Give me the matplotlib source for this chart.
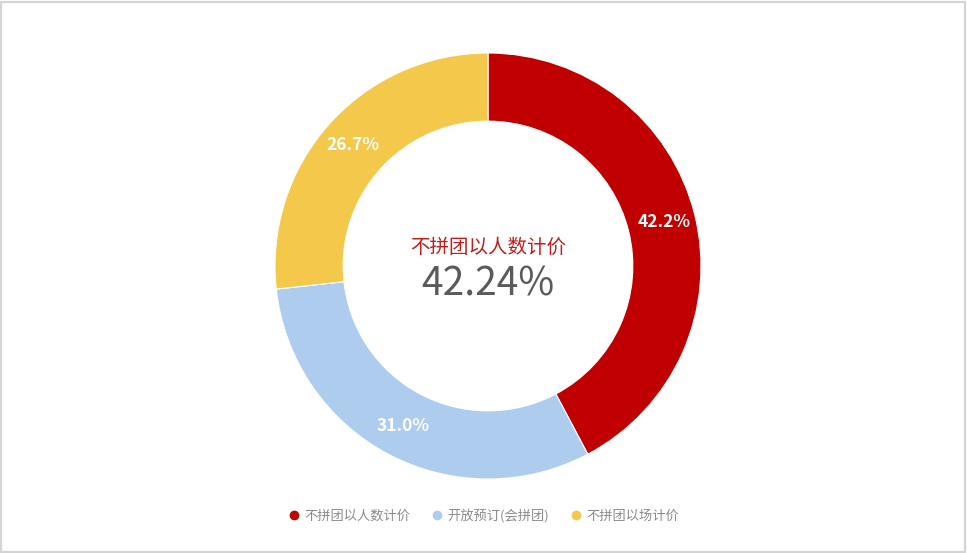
import matplotlib.pyplot as plt
from matplotlib.lines import Line2D
from matplotlib.patches import Rectangle

plt.rcParams['font.family'] = ['Noto Sans CJK SC', 'DejaVu Sans']

# data
categories = ["不拼团以人数计价", "开放预订(会拼团)", "不拼团以场计价"]
shares = [42.24, 31.03, 26.73]
colors = ["#C00000", "#AECDEE", "#F4C84A"]

W, H = 967, 553
cx, cy, r = 488, 266, 213


def main():
    fig = plt.figure(figsize=(W / 100, H / 100), dpi=100)
    fig.patch.set_facecolor("white")

    # light frame around the picture
    fig.patches.append(Rectangle((0.001, 0.001), 0.997, 0.996, transform=fig.transFigure,
                                 fill=False, edgecolor="#d4d4d4", linewidth=1.6))

    ax = fig.add_axes([(cx - r) / W, (H - cy - r) / H, 2 * r / W, 2 * r / H])
    ax.set_aspect("equal")

    wedges, _, autotexts = ax.pie(shares, colors=colors, startangle=90, counterclock=False,
                                  radius=1.0, autopct="%.1f%%", pctdistance=0.85,
                                  wedgeprops=dict(width=0.32, edgecolor="white", linewidth=0.8),
                                  textprops=dict(color="white", fontsize=12.5, fontweight="bold"))
    ax.set_xlim(-1, 1)
    ax.set_ylim(-1, 1)
    ax.axis("off")

    # center label shows the first (largest) slice
    ax.text(0, 0.09, categories[0], ha="center", va="center", fontsize=14, color="#BE1E1E")
    ax.text(0, -0.085, "%.2f%%" % shares[0], ha="center", va="center", fontsize=28,
            color="#5a5a5a", fontweight="light")

    handles = [Line2D([], [], marker="o", linestyle="none", markersize=6,
                      markerfacecolor=c, markeredgecolor=c) for c in colors]
    fig.legend(handles, categories, loc="center", bbox_to_anchor=(0.5, 1 - 516 / H), ncol=3,
               frameon=False, fontsize=9.5, labelcolor="#8a8a8a", handletextpad=0.3,
               columnspacing=1.5, handlelength=1.0)

    plt.savefig("out.png", dpi=100)


if __name__ == "__main__":
    main()
